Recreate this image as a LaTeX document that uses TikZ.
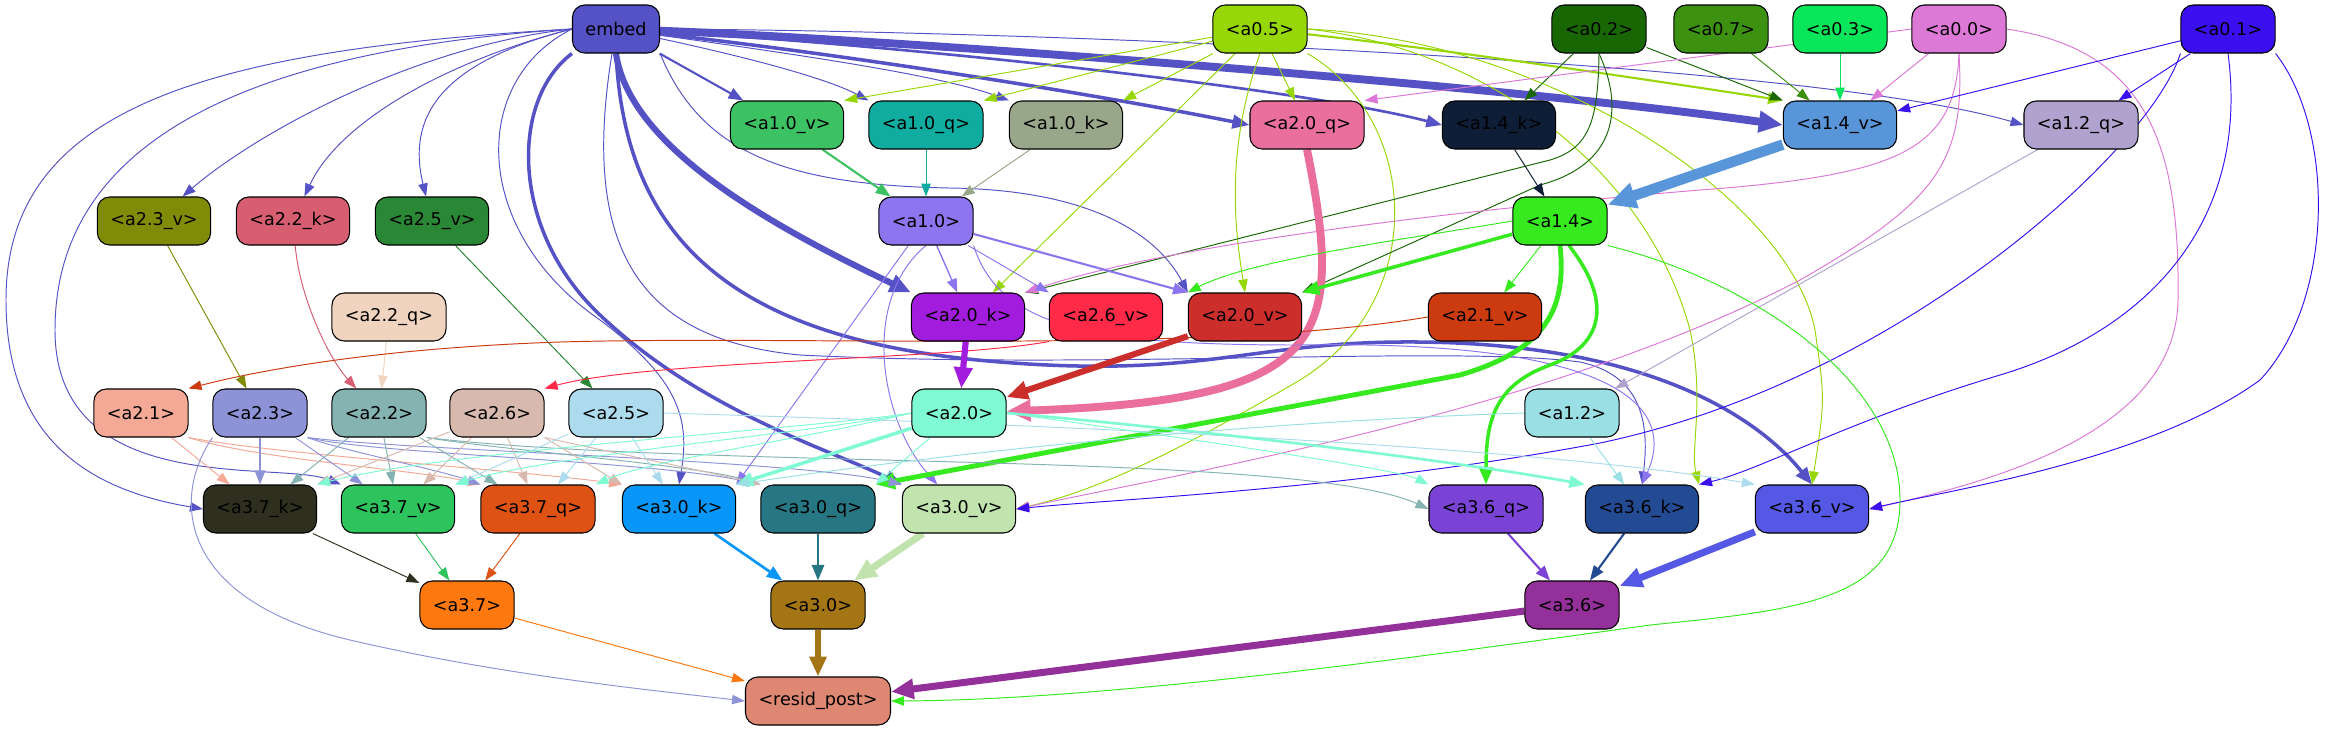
\documentclass[tikz,border=0pt]{standalone}
\usepackage{fontspec}
\setmainfont{DejaVu Sans}
\usepackage{xcolor}
\usepackage{tikz}
\usetikzlibrary{arrows.meta}
\pgfdeclarelayer{bg}
\pgfsetlayers{bg,main}
\definecolor{cemb}{HTML}{5552C6}
\definecolor{c05}{HTML}{97D707}
\definecolor{c02}{HTML}{196704}
\definecolor{c07}{HTML}{3C9110}
\definecolor{c03}{HTML}{0AE65A}
\definecolor{c00}{HTML}{DC78D6}
\definecolor{c01}{HTML}{3A10F0}
\definecolor{c10v}{HTML}{3DC263}
\definecolor{c10q}{HTML}{0FAC9F}
\definecolor{c10k}{HTML}{98A689}
\definecolor{c20q}{HTML}{EA6F9D}
\definecolor{c14k}{HTML}{0F1E37}
\definecolor{c14v}{HTML}{5895D9}
\definecolor{c12q}{HTML}{AFA2CE}
\definecolor{c23v}{HTML}{808B07}
\definecolor{c22k}{HTML}{D65E70}
\definecolor{c25v}{HTML}{2A8735}
\definecolor{c10}{HTML}{8C75EF}
\definecolor{c14}{HTML}{36EA1F}
\definecolor{c22q}{HTML}{F1D4BF}
\definecolor{c20k}{HTML}{A11CDC}
\definecolor{c26v}{HTML}{FE2A48}
\definecolor{c20v}{HTML}{CC2E2B}
\definecolor{c21v}{HTML}{CC3A10}
\definecolor{c21}{HTML}{F4A896}
\definecolor{c23}{HTML}{8E93D8}
\definecolor{c22}{HTML}{84B3B2}
\definecolor{c26}{HTML}{D8B9AD}
\definecolor{c25}{HTML}{ACDBED}
\definecolor{c20}{HTML}{7FFAD3}
\definecolor{c12}{HTML}{9ADFE4}
\definecolor{c37k}{HTML}{2E2F1E}
\definecolor{c37v}{HTML}{2EC45D}
\definecolor{c37q}{HTML}{DE5314}
\definecolor{c30k}{HTML}{0896F9}
\definecolor{c30q}{HTML}{267683}
\definecolor{c30v}{HTML}{C1E3AE}
\definecolor{c36q}{HTML}{7A43D6}
\definecolor{c36k}{HTML}{234B94}
\definecolor{c36v}{HTML}{5558E5}
\definecolor{c37}{HTML}{FD780F}
\definecolor{c30}{HTML}{A47514}
\definecolor{c36}{HTML}{933099}
\definecolor{cres}{HTML}{DE8873}

\begin{document}
\begin{tikzpicture}[
    x=0.02cm, y=-0.02cm,
    nd/.style={draw=black, line width=0.6pt, rounded corners=7pt,
               minimum height=0.96cm, inner xsep=0.26cm, inner ysep=0pt},
    ed/.style={draw=#1, line width=0.55pt,
               -{Triangle[length=6.5pt 1.6, width=4.5pt 1.6]}}
]
    \useasboundingbox (0,0) rectangle (2335,731);

    % inputs
    \node[nd, fill=cemb] (embed) at (616,29) {embed};
    \node[nd, fill=c05] (a05) at (1260,29) {<a0.5>};
    \node[nd, fill=c02] (a02) at (1599,29) {<a0.2>};
    \node[nd, fill=c07] (a07) at (1721,29) {<a0.7>};
    \node[nd, fill=c03] (a03) at (1840,29) {<a0.3>};
    \node[nd, fill=c00] (a00) at (1959,29) {<a0.0>};
    \node[nd, fill=c01] (a01) at (2228,29) {<a0.1>};

    % layer 1
    \node[nd, fill=c10v] (a10v) at (787,125) {<a1.0\_v>};
    \node[nd, fill=c10q] (a10q) at (926,125) {<a1.0\_q>};
    \node[nd, fill=c10k] (a10k) at (1066,125) {<a1.0\_k>};
    \node[nd, fill=c20q] (a20q) at (1307,125) {<a2.0\_q>};
    \node[nd, fill=c14k] (a14k) at (1499,125) {<a1.4\_k>};
    \node[nd, fill=c14v] (a14v) at (1840,125) {<a1.4\_v>};
    \node[nd, fill=c12q] (a12q) at (2081,125) {<a1.2\_q>};
    \node[nd, fill=c23v] (a23v) at (154,221) {<a2.3\_v>};
    \node[nd, fill=c22k] (a22k) at (293,221) {<a2.2\_k>};
    \node[nd, fill=c25v] (a25v) at (432,221) {<a2.5\_v>};
    \node[nd, fill=c10] (a10) at (926,221) {<a1.0>};
    \node[nd, fill=c14] (a14) at (1560,221) {<a1.4>};

    % layer 2
    \node[nd, fill=c22q] (a22q) at (389,317) {<a2.2\_q>};
    \node[nd, fill=c20k] (a20k) at (968,317) {<a2.0\_k>};
    \node[nd, fill=c26v] (a26v) at (1106,317) {<a2.6\_v>};
    \node[nd, fill=c20v] (a20v) at (1245,317) {<a2.0\_v>};
    \node[nd, fill=c21v] (a21v) at (1485,317) {<a2.1\_v>};
    \node[nd, fill=c21] (a21) at (141,413) {<a2.1>};
    \node[nd, fill=c23] (a23) at (260,413) {<a2.3>};
    \node[nd, fill=c22] (a22) at (379,413) {<a2.2>};
    \node[nd, fill=c26] (a26) at (497,413) {<a2.6>};
    \node[nd, fill=c25] (a25) at (616,413) {<a2.5>};
    \node[nd, fill=c20] (a20) at (959,413) {<a2.0>};
    \node[nd, fill=c12] (a12) at (1572,413) {<a1.2>};

    % layer 3
    \node[nd, fill=c37k] (a37k) at (260,509) {<a3.7\_k>};
    \node[nd, fill=c37v] (a37v) at (398,509) {<a3.7\_v>};
    \node[nd, fill=c37q] (a37q) at (538,509) {<a3.7\_q>};
    \node[nd, fill=c30k] (a30k) at (679,509) {<a3.0\_k>};
    \node[nd, fill=c30q] (a30q) at (818,509) {<a3.0\_q>};
    \node[nd, fill=c30v] (a30v) at (959,509) {<a3.0\_v>};
    \node[nd, fill=c36q] (a36q) at (1486,509) {<a3.6\_q>};
    \node[nd, fill=c36k] (a36k) at (1642,509) {<a3.6\_k>};
    \node[nd, fill=c36v] (a36v) at (1812,509) {<a3.6\_v>};
    \node[nd, fill=c37] (a37) at (467,605) {<a3.7>};
    \node[nd, fill=c30] (a30) at (818,605) {<a3.0>};
    \node[nd, fill=c36] (a36) at (1572,605) {<a3.6>};
    \node[nd, fill=cres] (resid) at (818,701) {<resid\_post>};

    \begin{pgfonlayer}{bg}
    % from embed
    \draw[ed=cemb, line width=1.2pt] (embed) -- (a10v);
    \draw[ed=cemb] (embed) .. controls (760,60) and (830,80) .. (a10q.north west);
    \draw[ed=cemb] (embed) .. controls (800,55) and (940,75) .. (a10k.north west);
    \draw[ed=cemb, line width=2pt] (embed) .. controls (850,55) and (1100,95) .. (a20q.west);
    \draw[ed=cemb, line width=1.5pt] (embed) .. controls (900,45) and (1300,88) .. (a14k.west);
    \draw[ed=cemb, line width=4.5pt] (embed) .. controls (900,40) and (1500,85) .. (a14v.west);
    \draw[ed=cemb] (embed) .. controls (1000,30) and (1800,60) .. (a12q.west);
    \draw[ed=cemb] (embed.west) .. controls (420,45) and (260,130) .. (a23v);
    \draw[ed=cemb] (embed.west) .. controls (450,60) and (340,120) .. (a22k);
    \draw[ed=cemb] (embed.west) .. controls (450,60) and (405,110) .. (a25v);
    \draw[ed=cemb] (embed.west) .. controls (200,50) and (6,110) .. (6,300)
        .. controls (6,440) and (90,490) .. (a37k.west);
    \draw[ed=cemb] (embed.west) .. controls (250,50) and (55,140) .. (55,330)
        .. controls (55,500) and (280,460) .. (a37v.north west);
    \draw[ed=cemb] (embed.west) .. controls (470,80) and (470,230) .. (600,320)
        .. controls (680,380) and (690,420) .. (a30k.north);
    \draw[ed=cemb, line width=2pt] (embed.south west) .. controls (510,100) and (510,230) .. (600,315)
        .. controls (700,410) and (830,450) .. (a30v.north west);
    \draw[ed=cemb, line width=3.5pt] (embed.south) .. controls (630,150) and (780,230) .. (a20k.north west);
    \draw[ed=cemb] (embed.south east) .. controls (700,150) and (780,185) .. (950,188)
        .. controls (1100,190) and (1160,240) .. (a20v.north west);
    \draw[ed=cemb] (embed) .. controls (580,250) and (640,340) .. (800,355)
        .. controls (1100,370) and (1450,345) .. (1580,362)
        .. controls (1640,375) and (1650,420) .. (a36k.north);
    \draw[ed=cemb, line width=2pt] (embed.south) .. controls (625,230) and (720,340) .. (1000,362)
        .. controls (1200,378) and (1250,343) .. (1400,342)
        .. controls (1650,340) and (1760,420) .. (a36v.north);

    % from a0.5
    \draw[ed=c05] (a05) -- (a10v.north east);
    \draw[ed=c05] (a05) -- (a10q.north east);
    \draw[ed=c05] (a05) -- (a10k.north east);
    \draw[ed=c05] (a05) -- (a20q);
    \draw[ed=c05] (a05) -- (a20k);
    \draw[ed=c05] (a05.south) .. controls (1225,150) and (1235,230) .. (a20v.north);
    \draw[ed=c05, line width=1.2pt] (a05) .. controls (1450,50) and (1650,80) .. (a14v.north west);
    \draw[ed=c05] (a05.south east) .. controls (1420,120) and (1430,300) .. (1300,380)
        .. controls (1180,450) and (1100,490) .. (a30v.east);
    \draw[ed=c05] (a05.east) .. controls (1500,50) and (1650,180) .. (1690,330)
        .. controls (1705,400) and (1690,450) .. (a36k.north east);
    \draw[ed=c05] (a05.east) .. controls (1550,40) and (1790,200) .. (1815,330)
        .. controls (1825,400) .. (a36v.north);

    % from a0.2, a0.7, a0.3
    \draw[ed=c02] (a02) -- (a14k);
    \draw[ed=c02] (a02) -- (a14v.north west);
    \draw[ed=c02] (a02.south) .. controls (1598,120) and (1590,148) .. (1550,160) -- (a20k.north east);
    \draw[ed=c02] (a02.south) .. controls (1625,110) and (1615,165) .. (1540,185) -- (a20v.north east);
    \draw[ed=c07] (a07) -- (a14v);
    \draw[ed=c03] (a03) -- (a14v);

    % from a0.0
    \draw[ed=c00] (a00) -- (a14v);
    \draw[ed=c00] (a00.west) -- (a20q.north east);
    \draw[ed=c00] (a00.south) .. controls (1955,150) and (1900,175) .. (1700,190)
        .. controls (1400,215) and (1150,250) .. (a20k.north east);
    \draw[ed=c00] (a00.south) .. controls (1965,160) and (1940,200) .. (1800,280)
        .. controls (1550,410) and (1200,470) .. (a30v.east);
    \draw[ed=c00] (a00.east) .. controls (2150,50) and (2180,150) .. (2178,300)
        .. controls (2176,430) and (2000,480) .. (a36v.east);

    % from a0.1
    \draw[ed=c01] (a01) -- (a14v);
    \draw[ed=c01] (a01) -- (a12q);
    \draw[ed=c01] (a01.south west) .. controls (2150,150) and (1900,380) .. (1600,443)
        .. controls (1350,490) and (1100,500) .. (a30v.east);
    \draw[ed=c01] (a01.south) .. controls (2250,220) and (2150,330) .. (2000,375)
        .. controls (1850,420) and (1760,470) .. (a36k.north east);
    \draw[ed=c01] (a01.south east) .. controls (2335,130) and (2335,300) .. (2260,380)
        .. controls (2150,460) and (1950,490) .. (a36v.east);

    % layer 1 into layer 1 heads
    \draw[ed=c10v, line width=1.2pt] (a10v) -- (a10);
    \draw[ed=c10q] (a10q) -- (a10);
    \draw[ed=c10k] (a10k) -- (a10);
    \draw[ed=c20q, line width=4.5pt] (a20q.south) .. controls (1345,340) and (1330,400) .. (a20);
    \draw[ed=c14k] (a14k) -- (a14);
    \draw[ed=c14v, line width=6pt] (a14v) -- (a14);
    \draw[ed=c12q] (a12q) -- (a12);
    \draw[ed=c23v] (a23v) -- (a23);
    \draw[ed=c22k] (a22k) .. controls (300,300) and (330,360) .. (a22);
    \draw[ed=c25v] (a25v) -- (a25);
    \draw[ed=c22q] (a22q) -- (a22);

    % from a1.0
    \draw[ed=c10, line width=0.8pt] (a10) -- (a20k);
    \draw[ed=c10] (a10) -- (a26v.north west);
    \draw[ed=c10, line width=1.2pt] (a10) -- (a20v.north west);
    \draw[ed=c10] (a10) -- (a30k.north east);
    \draw[ed=c10] (a10.south) .. controls (860,300) and (880,420) .. (a30v);
    \draw[ed=c10] (a10.south east) .. controls (1000,330) and (1100,345) .. (1300,345)
        .. controls (1600,340) and (1680,400) .. (a36k.north);

    % from a1.4
    \draw[ed=c14, line width=2pt] (a14) -- (a20v.north east);
    \draw[ed=c14] (a14.west) .. controls (1400,240) and (1250,260) .. (a20v.north west);
    \draw[ed=c14] (a14) -- (a21v);
    \draw[ed=c14, line width=2.8pt] (a14.south) .. controls (1567,310) and (1545,350) .. (1460,375)
        -- (a30q.north east);
    \draw[ed=c14, line width=2pt] (a14.290) .. controls (1612,300) and (1605,345) .. (1550,365)
        .. controls (1495,385) and (1486,420) .. (a36q.north);
    \draw[ed=c14] (a14.south east) .. controls (1750,280) and (1900,380) .. (1900,500)
        .. controls (1900,600) and (1800,610) .. (1650,625)
        .. controls (1400,660) and (1100,700) .. (resid.east);

    % layer 2 heads
    \draw[ed=c21v] (a21v.west) .. controls (1200,355) and (800,335) .. (560,342)
        .. controls (380,348) and (260,370) .. (a21.north east);
    \draw[ed=c26v] (a26v.south west) .. controls (950,360) and (650,360) .. (a26.north east);
    \draw[ed=c20k, line width=3.5pt] (a20k) -- (a20);
    \draw[ed=c20v, line width=3.5pt] (a20v) -- (a20);

    % layer 2 into layer 3
    \draw[ed=c21] (a21) -- (a37k);
    \draw[ed=c21] (a21.south east) .. controls (260,460) and (420,470) .. (a37q.north west);
    \draw[ed=c21] (a21.south east) .. controls (280,455) and (520,470) .. (a30k.north west);
    \draw[ed=c23, line width=1pt] (a23) -- (a37k);
    \draw[ed=c23] (a23) -- (a37v);
    \draw[ed=c23] (a23.south east) .. controls (340,450) and (440,470) .. (a37q.north west);
    \draw[ed=c23] (a23.south east) .. controls (380,455) and (650,460) .. (a30q.north west);
    \draw[ed=c23] (a23.south east) .. controls (400,450) and (800,460) .. (a30v.north west);
    \draw[ed=c23] (a23.south west) .. controls (170,500) and (180,600) .. (350,640)
        .. controls (500,675) and (650,690) .. (resid.west);
    \draw[ed=c22] (a22) -- (a37k);
    \draw[ed=c22] (a22) -- (a37v);
    \draw[ed=c22] (a22) -- (a37q);
    \draw[ed=c22] (a22.south east) .. controls (500,450) and (700,465) .. (a30q.north west);
    \draw[ed=c22] (a22.south east) .. controls (700,470) and (1300,450) .. (a36q.west);
    \draw[ed=c26] (a26) -- (a37k.north east);
    \draw[ed=c26] (a26) -- (a37v);
    \draw[ed=c26] (a26) -- (a37q);
    \draw[ed=c26] (a26.south east) -- (a30k.north west);
    \draw[ed=c26] (a26.south east) .. controls (600,450) and (700,470) .. (a30q.north west);
    \draw[ed=c25] (a25) -- (a37v.north east);
    \draw[ed=c25] (a25) -- (a37q);
    \draw[ed=c25] (a25) -- (a30k);
    \draw[ed=c25] (a25.east) .. controls (900,420) and (1500,440) .. (a36v.north west);
    \draw[ed=c20] (a20.west) .. controls (800,430) and (450,450) .. (a37k.north east);
    \draw[ed=c20] (a20.west) .. controls (800,435) and (550,455) .. (a37v.north east);
    \draw[ed=c20] (a20.west) .. controls (800,440) and (650,460) .. (a37q.north east);
    \draw[ed=c20, line width=2pt] (a20) -- (a30k.north east);
    \draw[ed=c20] (a20) -- (a30q.north east);
    \draw[ed=c20] (a20.east) .. controls (1200,440) and (1400,470) .. (a36q.north west);
    \draw[ed=c20, line width=1.5pt] (a20.east) .. controls (1200,430) and (1450,460) .. (a36k.north west);
    \draw[ed=c12] (a12) -- (a36k);
    \draw[ed=c12] (a12.west) .. controls (1300,420) and (1000,445) .. (a30k.north east);

    % layer 3 heads and output
    \draw[ed=c37k] (a37k) -- (a37);
    \draw[ed=c37v] (a37v) -- (a37);
    \draw[ed=c37q] (a37q) -- (a37);
    \draw[ed=c30k, line width=1.5pt] (a30k) -- (a30);
    \draw[ed=c30q, line width=1.5pt] (a30q) -- (a30);
    \draw[ed=c30v, line width=4pt] (a30v) -- (a30);
    \draw[ed=c36q, line width=1.2pt] (a36q) -- (a36);
    \draw[ed=c36k, line width=1.2pt] (a36k) -- (a36);
    \draw[ed=c36v, line width=4pt] (a36v) -- (a36);
    \draw[ed=c37] (a37) -- (resid);
    \draw[ed=c30, line width=3pt] (a30) -- (resid);
    \draw[ed=c36, line width=4pt] (a36) -- (resid);
    \end{pgfonlayer}
\end{tikzpicture}
\end{document}
